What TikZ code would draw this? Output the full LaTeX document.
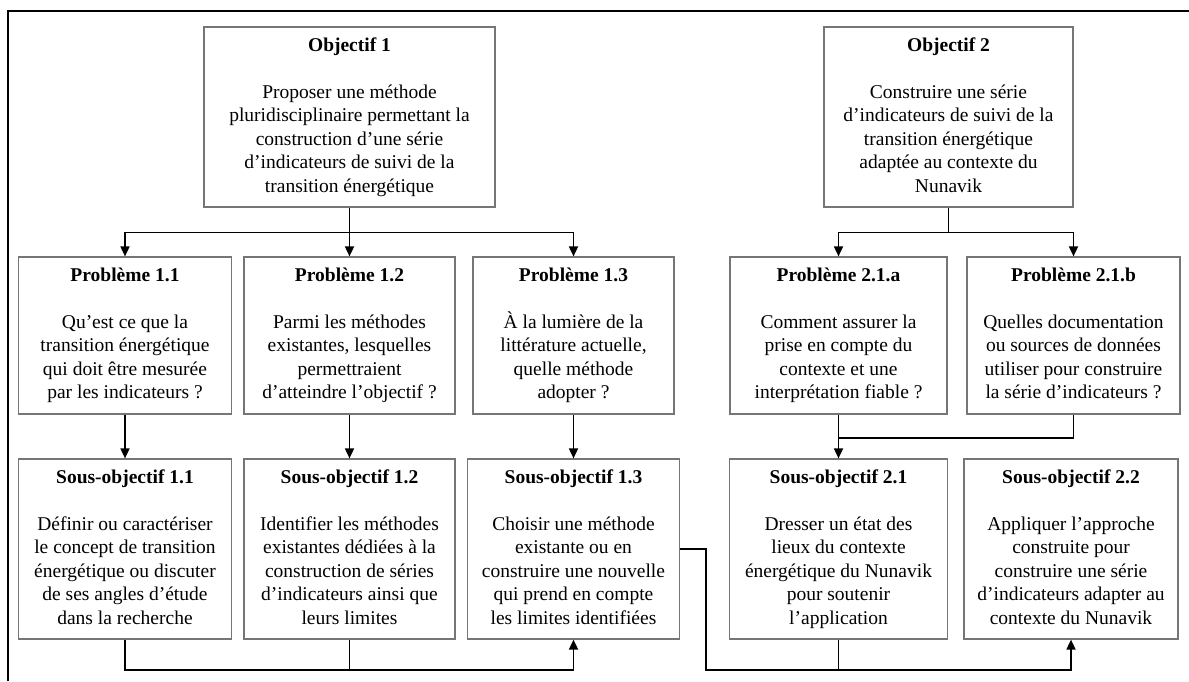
\documentclass[tikz,border=0pt]{standalone}
\usepackage{fontspec}
\setmainfont{Liberation Serif}
\usetikzlibrary{arrows.meta,calc}
\definecolor{boxgray}{HTML}{767676}
% a framed box with a bold heading and a centred body
% #1 name, #2 x, #3 y (centre), #4 width, #5 height, #6 heading, #7 body
\newcommand\goalbox[7]{%
  \node[box, minimum width=#4, minimum height=#5] (#1) at (#2,#3) {};
  \node[ttl, anchor=base] (#1-t) at ([yshift=-25pt]#1.north) {#6};
  \node[bodytext, anchor=north] (#1-b) at ([yshift=-55pt]#1.north) {\strut #7};
}
\begin{document}
\begin{tikzpicture}[x=1pt,y=-1pt,
  box/.style={draw=boxgray, line width=1.2pt, inner sep=0pt},
  ttl/.style={inner sep=0pt, font=\fontsize{19.5}{23.5}\selectfont\bfseries},
  bodytext/.style={inner sep=0pt, align=center, font=\fontsize{19.5}{23.5}\selectfont},
  conn/.style={line width=1.7pt, draw=black},
  arr/.style={conn, -{Triangle[length=10pt,width=9pt]}}]
\useasboundingbox (0,0) rectangle (1189,681);

% outer frame (top and left edges)
\draw[line width=2pt] (7.5,681) -- (7.5,11) -- (1189,11);

% objectives
\goalbox{o1}{349.5}{117}{291pt}{180pt}{Objectif 1}{Proposer une méthode\\pluridisciplinaire permettant la\\construction d’une série\\d’indicateurs de suivi de la\\transition énergétique}
\goalbox{o2}{948.5}{117}{249pt}{180pt}{Objectif 2}{Construire une série\\d’indicateurs de suivi de la\\transition énergétique\\adaptée au contexte du\\Nunavik}

% problems
\goalbox{p11}{125}{335.5}{213pt}{157pt}{Problème 1.1}{Qu’est ce que la\\transition énergétique\\qui doit être mesurée\\par les indicateurs ?}
\goalbox{p12}{349.5}{335.5}{211pt}{157pt}{Problème 1.2}{Parmi les méthodes\\existantes, lesquelles\\permettraient\\d’atteindre l’objectif ?}
\goalbox{p13}{573.5}{335.5}{201pt}{157pt}{Problème 1.3}{À la lumière de la\\littérature actuelle,\\quelle méthode\\adopter ?}
\goalbox{p2a}{838.5}{335.5}{217pt}{157pt}{Problème 2.1.a}{Comment assurer la\\prise en compte du\\contexte et une\\interprétation fiable ?}
\goalbox{p2b}{1073.5}{335.5}{213pt}{157pt}{Problème 2.1.b}{Quelles documentation\\ou sources de données\\utiliser pour construire\\la série d’indicateurs ?}

% sub-objectives
\goalbox{s11}{125}{549}{213pt}{180pt}{Sous-objectif 1.1}{Définir ou caractériser\\le concept de transition\\énergétique ou discuter\\de ses angles d’étude\\dans la recherche}
\goalbox{s12}{349.5}{549}{211pt}{180pt}{Sous-objectif 1.2}{Identifier les méthodes\\existantes dédiées à la\\construction de séries\\d’indicateurs ainsi que\\leurs limites}
\goalbox{s13}{573.5}{549}{212pt}{180pt}{Sous-objectif 1.3}{Choisir une méthode\\existante ou en\\construire une nouvelle\\qui prend en compte\\les limites identifiées}
\goalbox{s21}{838.5}{549}{218pt}{180pt}{Sous-objectif 2.1}{Dresser un état des\\lieux du contexte\\énergétique du Nunavik\\pour soutenir\\l’application}
\goalbox{s22}{1071}{549}{214pt}{180pt}{Sous-objectif 2.2}{Appliquer l’approche\\construite pour\\construire une série\\d’indicateurs adapter au\\contexte du Nunavik}

% helper levels
\coordinate (merge) at (0,438);
\coordinate (low) at (0,670);

% objective 1 to its problems
\draw[arr] (o1.south) -- (p12.north);
\draw[arr] (o1.south) -- ++(0,25) -| (p11.north);
\draw[arr] (o1.south) -- ++(0,25) -| (p13.north);

% objective 2 to its problems
\draw[arr] (o2.south) -- ++(0,25) -| (p2a.north);
\draw[arr] (o2.south) -- ++(0,25) -| (p2b.north);

% problems to sub-objectives
\draw[arr] (p11.south) -- (s11.north);
\draw[arr] (p12.south) -- (s12.north);
\draw[arr] (p13.south) -- (s13.north);
\draw[conn] (p2b.south) |- (p2a.south |- merge);
\draw[arr] (p2a.south) -- (s21.north);

% sub-objectives 1.1 and 1.2 feed 1.3
\draw[conn] (s12.south) -- (s12.south |- low);
\draw[arr] (s11.south) |- (s13.south |- low) -- (s13.south);

% sub-objectives 1.3 and 2.1 feed 2.2
\draw[conn] (s21.south) -- (s21.south |- low);
\draw[arr] (s13.east) -- ++(26,0) coordinate (kink) -- (kink |- low) -| (s22.south);
\end{tikzpicture}
\end{document}
